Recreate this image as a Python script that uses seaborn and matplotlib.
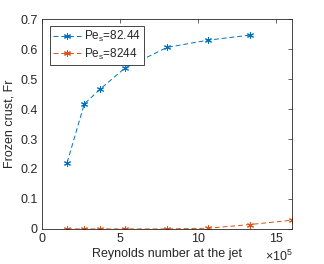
import numpy as np
import pandas as pd
import matplotlib
matplotlib.use("Agg")
import matplotlib.pyplot as plt
import seaborn as sns

re_blue = [1.6e5, 2.7e5, 3.7e5, 5.3e5, 8.0e5, 10.6e5, 13.3e5]
fr_blue = [0.221, 0.417, 0.466, 0.537, 0.606, 0.630, 0.647]
re_red = [1.6e5, 2.7e5, 3.7e5, 5.3e5, 8.0e5, 10.6e5, 13.3e5, 16.0e5]
fr_red = [0.0, 0.0, 0.0, 0.0, 0.0, 0.002, 0.0145, 0.029]
labels = ["Pe$_\\mathregular{s}$=82.44", "Pe$_\\mathregular{s}$=8244"]
colors = ["#0072BD", "#D95319"]
xticks = [0, 5e5, 10e5, 15e5]
xticklabels = ["0", "5", "10", "15"]
yticks = [0, 0.1, 0.2, 0.3, 0.4, 0.5, 0.6, 0.7]
yticklabels = ["0", "0.1", "0.2", "0.3", "0.4", "0.5", "0.6", "0.7"]

df = pd.concat([
    pd.DataFrame({"Re": re_blue, "Fr": fr_blue, "series": labels[0]}),
    pd.DataFrame({"Re": re_red, "Fr": fr_red, "series": labels[1]}),
])

sns.set_style("white")
plt.rcParams["font.family"] = ["Liberation Sans", "DejaVu Sans"]
plt.rcParams["mathtext.fontset"] = "custom"
plt.rcParams["mathtext.rm"] = "Liberation Sans"

TXT = "#262626"
fig = plt.figure(figsize=(3.24, 2.64), dpi=100)
ax = fig.add_axes([0.13, 0.133, 0.771, 0.794])

sns.lineplot(data=df, x="Re", y="Fr", hue="series", palette=colors,
             dashes=False, linewidth=0.7, ax=ax, legend=True)


def style_line(line):
    c = line.get_color()
    line.set_linestyle((0, (5, 3)))
    line.set_marker((6, 2, 0))
    line.set_markersize(5)
    line.set_markeredgewidth(0.75)
    line.set_markeredgecolor(c)
    line.set_markerfacecolor(c)


for line in ax.lines:
    style_line(line)

ax.set_xlim(0, 16e5)
ax.set_ylim(0, 0.7)
ax.set_xticks(xticks)
ax.set_xticklabels(xticklabels)
ax.set_yticks(yticks)
ax.set_yticklabels(yticklabels)

ax.set_xlabel("Reynolds number at the jet", fontsize=9, color=TXT, labelpad=2)
ax.set_ylabel("Frozen crust, Fr", fontsize=9, color=TXT, labelpad=4)
ax.tick_params(direction="in", length=3, width=0.5, labelsize=9,
               colors=TXT, top=True, right=True, pad=3)
for s in ax.spines.values():
    s.set_linewidth(0.6)
    s.set_color(TXT)
    s.set_visible(True)

fig.text(0.86, 0.012, "\u00d710$^{5}$", fontsize=9, color=TXT,
         ha="center", va="baseline")

leg = ax.legend(loc="upper left", fontsize=8.5, frameon=True, fancybox=False,
                edgecolor=TXT, framealpha=1, borderpad=0.3,
                handlelength=2.4, handletextpad=0.2, labelspacing=0.2,
                borderaxespad=0, bbox_to_anchor=(0.03, 0.97))
leg.get_frame().set_linewidth(0.6)
for h in leg.get_lines():
    style_line(h)

fig.savefig("out.png", dpi=100)
